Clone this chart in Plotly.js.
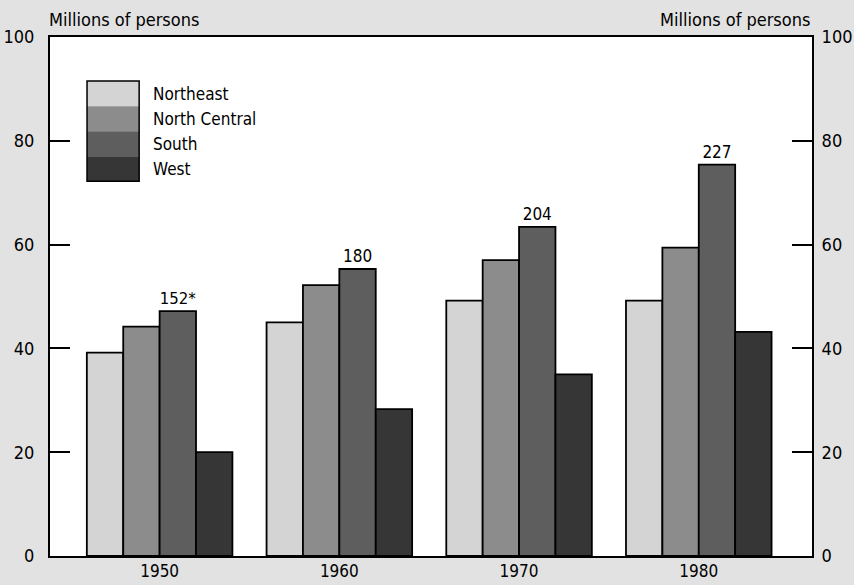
<!DOCTYPE html>
<html>
<head>
<meta charset="utf-8">
<script src="https://cdn.plot.ly/plotly-3.0.1.min.js"></script>
<style>html,body{margin:0;padding:0;background:#e2e2e2;}</style>
</head>
<body>
<div id="chart" style="width:854px;height:585px;"></div>
<script>
const years = ['1950', '1960', '1970', '1980'];
const regions = ['Northeast', 'North Central', 'South', 'West'];
const northeast = [39.2, 45.0, 49.2, 49.2];
const northCentral = [44.2, 52.2, 57.0, 59.4];
const south = [47.2, 55.3, 63.4, 75.4];
const west = [20.0, 28.3, 35.0, 43.2];
const totals = ['152*', '180', '204', '227'];
const colors = ['#d4d4d4', '#8c8c8c', '#5e5e5e', '#363636'];

const FONT = '"DejaVu Sans Condensed", "Liberation Sans Narrow", Arial, sans-serif';
const seriesVals = [northeast, northCentral, south, west];

const traces = seriesVals.map((vals, i) => {
  const t = {
    type: 'bar', name: regions[i], x: years, y: vals,
    marker: {color: colors[i], line: {color: '#000', width: 1.8}},
    showlegend: false, hoverinfo: 'skip'
  };
  if (i === 2) {
    t.text = totals; t.textposition = 'outside'; t.cliponaxis = false;
    t.textfont = {family: FONT, size: 17, color: '#000'};
  }
  return t;
});
// invisible trace for right axis
traces.push({type: 'scatter', x: [years[0]], y: [0], yaxis: 'y2', mode: 'markers',
  marker: {opacity: 0}, showlegend: false, hoverinfo: 'skip'});

const shapes = [];
const annotations = [];
const lx0 = 0.0486, lx1 = 0.117, ltop = 0.915, lh = 0.0482;
regions.forEach((r, i) => {
  shapes.push({type: 'rect', xref: 'paper', yref: 'paper', x0: lx0, x1: lx1,
    y0: ltop - (i + 1) * lh, y1: ltop - i * lh, fillcolor: colors[i], line: {width: 0}});
  annotations.push({xref: 'paper', yref: 'paper', x: 0.132, y: ltop - (i + 0.5) * lh,
    xanchor: 'left', yanchor: 'middle', text: r, showarrow: false,
    font: {family: FONT, size: 17, color: '#000'}});
});
shapes.push({type: 'rect', xref: 'paper', yref: 'paper', x0: lx0, x1: lx1,
  y0: ltop - 4 * lh, y1: ltop, line: {color: '#000', width: 1.5}});

annotations.push({xref: 'paper', yref: 'paper', x: -0.004, y: 1.0, yshift: 18, xanchor: 'left', yanchor: 'middle',
  text: 'Millions of persons', showarrow: false, font: {family: FONT, size: 18, color: '#000'}});
annotations.push({xref: 'paper', yref: 'paper', x: 1.0, y: 1.0, yshift: 18, xanchor: 'right', yanchor: 'middle',
  text: 'Millions of persons', showarrow: false, font: {family: FONT, size: 18, color: '#000'}});

const axisFont = {family: FONT, size: 18, color: '#000'};
const layout = {
  width: 854, height: 585,
  margin: {l: 50, r: 42, t: 37, b: 29},
  paper_bgcolor: '#e2e2e2', plot_bgcolor: '#ffffff',
  barmode: 'group', bargap: 0.19, bargroupgap: 0,
  xaxis: {type: 'category', range: [-0.61, 3.63], showline: true, linecolor: '#000', linewidth: 2,
    mirror: true, ticks: '', tickfont: {family: FONT, size: 17, color: '#000'}, showgrid: false,
    zeroline: false, fixedrange: true, ticklabelstandoff: -1},
  yaxis: {range: [0, 100], tickvals: [0, 20, 40, 60, 80, 100], ticks: 'inside', ticklen: 20, tickwidth: 2,
    tickcolor: '#000', showline: true, linecolor: '#000', linewidth: 2, tickfont: axisFont,
    showgrid: false, zeroline: false, ticklabelstandoff: 10},
  yaxis2: {range: [0, 100], overlaying: 'y', side: 'right', tickvals: [0, 20, 40, 60, 80, 100],
    ticks: 'inside', ticklen: 20, tickwidth: 2, tickcolor: '#000', showline: true, linecolor: '#000',
    linewidth: 2, tickfont: axisFont, showgrid: false, zeroline: false, ticklabelstandoff: 4},
  shapes: shapes, annotations: annotations,
  font: {family: FONT, color: '#000'}
};
Plotly.newPlot('chart', traces, layout, {displayModeBar: false, staticPlot: true});
</script>
</body>
</html>
